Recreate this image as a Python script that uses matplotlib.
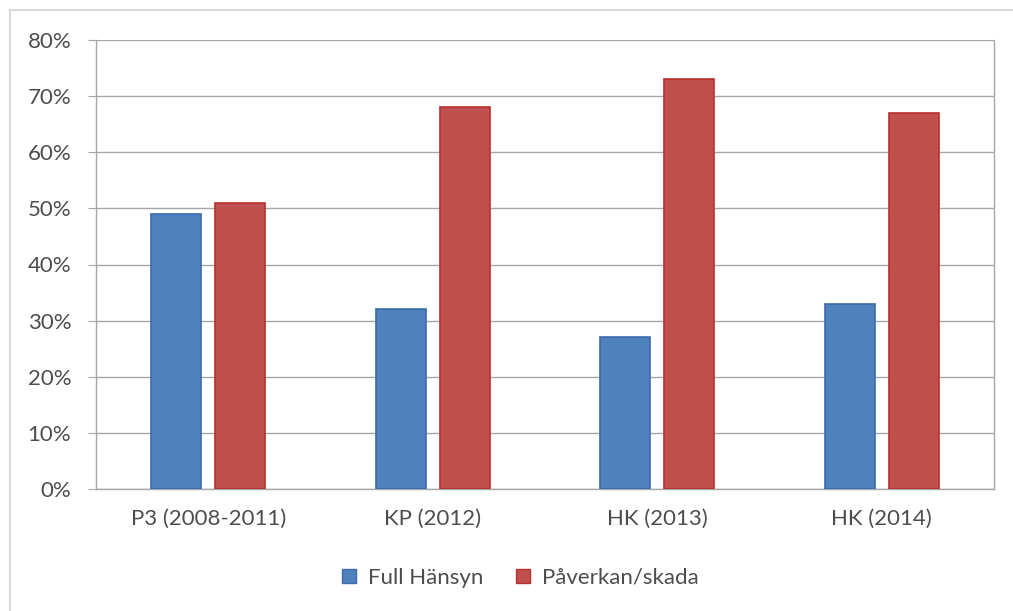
import matplotlib
matplotlib.use("Agg")
import matplotlib.pyplot as plt
from matplotlib.lines import Line2D
import numpy as np

categories = ["P3 (2008-2011)", "KP (2012)", "HK (2013)", "HK (2014)"]
full_hansyn = [49, 32, 27, 33]
paverkan = [51, 68, 73, 67]
series_names = ["Full Hänsyn", "Påverkan/skada"]
yticks = [0, 10, 20, 30, 40, 50, 60, 70, 80]

plt.rcParams['font.family'] = ['Lato', 'DejaVu Sans']
text_col = '#4D4D4D'
grid_col = '#A6A6A6'

fig = plt.figure(figsize=(10.13, 6.11), dpi=100)
ax = fig.add_axes([96/1013, 1-489/611, (994-96)/1013, (489-40)/611])

x = np.arange(len(categories))
w = 0.223
off = 0.1425
ax.bar(x - off, full_hansyn, w, color='#4F81BD', edgecolor='#3C6BAE', linewidth=1.2,
       label=series_names[0], zorder=3)
ax.bar(x + off, paverkan, w, color='#C0504D', edgecolor='#B8312F', linewidth=1.2,
       label=series_names[1], zorder=3)

ax.set_xlim(-0.5, len(categories) - 0.5)
ax.set_ylim(0, 80)
ax.set_yticks(yticks)
ax.set_yticklabels([f"{v}%" for v in yticks])
ax.set_xticks(x)
ax.set_xticklabels(categories)
ax.yaxis.grid(True, color=grid_col, linewidth=1, zorder=0)
ax.tick_params(axis='y', length=5.8, color=grid_col, pad=12, labelsize=16, labelcolor=text_col)
ax.tick_params(axis='x', length=0, pad=14, labelsize=16, labelcolor=text_col)
for s in ['left', 'right', 'bottom']:
    ax.spines[s].set_color(grid_col)
    ax.spines[s].set_linewidth(1)
ax.spines['top'].set_visible(False)

handles = [Line2D([], [], marker='s', linestyle='none', markersize=10,
                  markerfacecolor='#4F81BD', markeredgecolor='#3C6BAE'),
           Line2D([], [], marker='s', linestyle='none', markersize=10,
                  markerfacecolor='#C0504D', markeredgecolor='#B8312F')]
fig.legend(handles, series_names, loc='center', bbox_to_anchor=(0.513, 1-578/611),
           ncol=2, frameon=False, fontsize=16, labelcolor=text_col,
           handletextpad=0.45, columnspacing=1.4, handlelength=0.8)

# outer chart border (only top/left visible in the crop)
fig.add_artist(Line2D([10/1013, 1], [1-10/611, 1-10/611], color='#D9D9D9', lw=1.5))
fig.add_artist(Line2D([10/1013, 10/1013], [0, 1-10/611], color='#D9D9D9', lw=1.5))

fig.savefig("out.png", dpi=100)
